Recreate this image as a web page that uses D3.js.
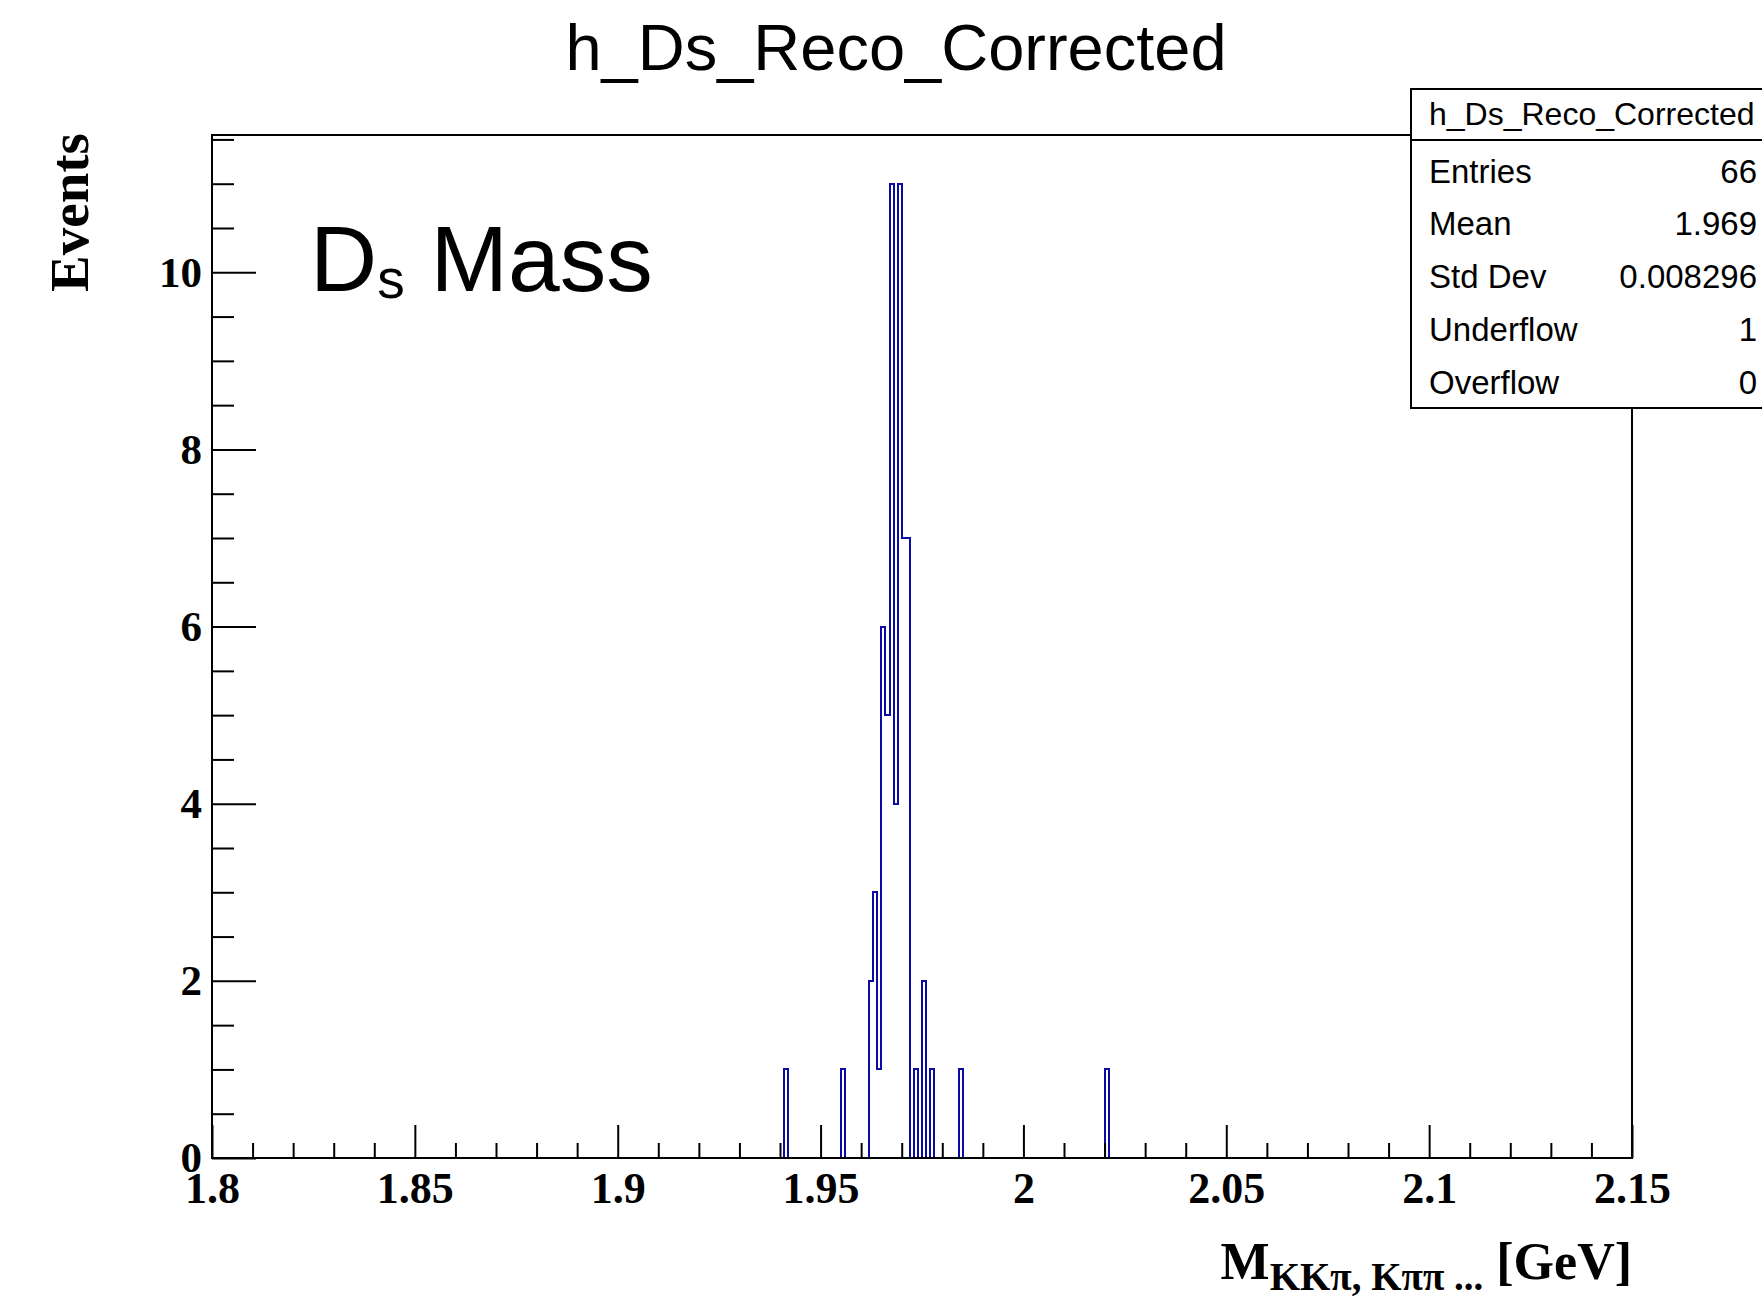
<!DOCTYPE html>
<html>
<head>
<meta charset="utf-8">
<script src="https://cdn.jsdelivr.net/npm/d3@7"></script>
<style>
  html, body { margin: 0; padding: 0; background: #fff; }
  svg { display: block; }
</style>
</head>
<body>
<svg id="chart" width="1762" height="1297"></svg>
<script>
// Histogram binning (GeV)
const massMin = 1.8;
const massMax = 2.15;
const binWidth = 0.001;

// Lower edges of the non-empty bins and their contents
const binLowEdges = [1.941, 1.955, 1.962, 1.963, 1.964, 1.965, 1.966, 1.967, 1.968,
                     1.969, 1.970, 1.971, 1.973, 1.975, 1.977, 1.984, 2.020];
const binCounts   = [1, 1, 2, 3, 1, 6, 5, 11, 4, 11, 7, 7, 1, 2, 1, 1, 1];

// Axis ticks
const xMajorTicks = [1.8, 1.85, 1.9, 1.95, 2.0, 2.05, 2.1, 2.15];
const xTickLabels = ["1.8", "1.85", "1.9", "1.95", "2", "2.05", "2.1", "2.15"];
const yMajorTicks = [0, 2, 4, 6, 8, 10];
const yTickLabels = ["0", "2", "4", "6", "8", "10"];

// Statistics box
const histName = "h_Ds_Reco_Corrected";
const statLabels = ["Entries", "Mean", "Std Dev", "Underflow", "Overflow"];
const statValues = ["66", "1.969", "0.008296", "1", "0"];

const svg = d3.select("#chart");
const W = 1762, H = 1297;
const frame = { left: 212, right: 1632, top: 135, bottom: 1158 };

const serif = "'Liberation Serif', 'Times New Roman', Times, serif";
const sans = "'Liberation Sans', Arial, Helvetica, sans-serif";
const histColor = "#0a0aa6";

svg.append("rect").attr("width", W).attr("height", H).attr("fill", "#fff");

const yMax = d3.max(binCounts) * 1.05;
const x = d3.scaleLinear().domain([massMin, massMax]).range([frame.left, frame.right]);
const y = d3.scaleLinear().domain([0, yMax]).range([frame.bottom, frame.top]);

// Full bin contents
const nBins = Math.round((massMax - massMin) / binWidth);
const contents = new Array(nBins).fill(0);
binLowEdges.forEach((e, i) => {
  contents[Math.round((e - massMin) / binWidth)] = binCounts[i];
});
const steps = contents.map((c, i) => ({ edge: massMin + i * binWidth, c }));
steps.push({ edge: massMax, c: 0 });

// Histogram outline
const line = d3.line()
  .x(d => x(d.edge))
  .y(d => y(d.c))
  .curve(d3.curveStepAfter);

svg.append("path")
  .datum([{ edge: massMin, c: 0 }].concat(steps))
  .attr("d", line)
  .attr("fill", "none")
  .attr("stroke", histColor)
  .attr("stroke-width", 2)
  .attr("shape-rendering", "crispEdges");

// Minor ticks
const xMinor = d3.range(0, 36).map(i => +(massMin + i * 0.01).toFixed(3))
  .filter(v => !xMajorTicks.some(t => Math.abs(t - v) < 1e-9));
const yMinor = d3.range(0, 24).map(i => i * 0.5)
  .filter(v => v <= yMax && !yMajorTicks.includes(v));

const gx = svg.append("g").attr("transform", `translate(0,${frame.bottom})`);
gx.call(d3.axisBottom(x).tickValues(xMinor).tickSize(-15).tickFormat(""));
gx.call(g => g.select(".domain").remove());
const gxMaj = svg.append("g").attr("transform", `translate(0,${frame.bottom})`);
gxMaj.call(d3.axisBottom(x).tickValues(xMajorTicks).tickSize(-33).tickPadding(14)
  .tickFormat((d, i) => xTickLabels[i]));
gxMaj.select(".domain").remove();
gxMaj.selectAll("text")
  .attr("font-family", serif).attr("font-weight", "bold").attr("font-size", 44)
  .attr("fill", "#000");

const gy = svg.append("g").attr("transform", `translate(${frame.left},0)`);
gy.call(d3.axisLeft(y).tickValues(yMinor).tickSize(-22).tickFormat(""));
gy.select(".domain").remove();
const gyMaj = svg.append("g").attr("transform", `translate(${frame.left},0)`);
gyMaj.call(d3.axisLeft(y).tickValues(yMajorTicks).tickSize(-44).tickPadding(10)
  .tickFormat((d, i) => yTickLabels[i]));
gyMaj.select(".domain").remove();
gyMaj.selectAll("text")
  .attr("font-family", serif).attr("font-weight", "bold").attr("font-size", 43)
  .attr("fill", "#000");

svg.selectAll(".tick line").attr("stroke", "#000").attr("stroke-width", 2);

// Frame
svg.append("rect")
  .attr("x", frame.left).attr("y", frame.top)
  .attr("width", frame.right - frame.left).attr("height", frame.bottom - frame.top)
  .attr("fill", "none").attr("stroke", "#000").attr("stroke-width", 2);

// Title
svg.append("text")
  .attr("x", 896).attr("y", 70)
  .attr("text-anchor", "middle")
  .attr("font-family", sans).attr("font-size", 65)
  .attr("fill", "#000")
  .text(histName);

// Y axis title
svg.append("text")
  .attr("transform", `translate(88,133) rotate(-90)`)
  .attr("text-anchor", "end")
  .attr("font-family", serif).attr("font-weight", "bold").attr("font-size", 55)
  .attr("fill", "#000")
  .text("Events");

// X axis title
const xt = svg.append("text")
  .attr("x", frame.right).attr("y", 1279)
  .attr("text-anchor", "end")
  .attr("font-family", serif).attr("font-weight", "bold").attr("font-size", 52)
  .attr("fill", "#000");
xt.append("tspan").text("M");
xt.append("tspan").attr("font-size", 39).attr("dy", 11).text("KKπ, Kππ ...");
xt.append("tspan").attr("dy", -11).text(" [GeV]");

// In-plot label
const lab = svg.append("text")
  .attr("x", 310).attr("y", 291)
  .attr("font-family", sans).attr("font-size", 93)
  .attr("fill", "#000");
lab.append("tspan").text("D");
lab.append("tspan").attr("font-size", 55).attr("dy", 7).text("s");
lab.append("tspan").attr("dy", -7).text(" Mass");

// Statistics box
const box = { x: 1411, y: 89, w: 360, h: 319, header: 51 };
svg.append("rect")
  .attr("x", box.x).attr("y", box.y).attr("width", box.w).attr("height", box.h)
  .attr("fill", "#fff").attr("stroke", "#000").attr("stroke-width", 2);
svg.append("line")
  .attr("x1", box.x).attr("x2", box.x + box.w)
  .attr("y1", box.y + box.header).attr("y2", box.y + box.header)
  .attr("stroke", "#000").attr("stroke-width", 2);
svg.append("text")
  .attr("x", 1429).attr("y", 125)
  .attr("font-family", sans).attr("font-size", 32).attr("fill", "#000")
  .text(histName);

const rowY = d3.scalePoint().domain(statLabels).range([182.5, 393.5]);
const rows = svg.append("g").selectAll("g").data(statLabels).join("g");
rows.append("text")
  .attr("x", 1429).attr("y", d => rowY(d))
  .attr("font-family", sans).attr("font-size", 33).attr("fill", "#000")
  .text(d => d);
rows.append("text")
  .attr("x", 1757).attr("y", d => rowY(d))
  .attr("text-anchor", "end")
  .attr("font-family", sans).attr("font-size", 33).attr("fill", "#000")
  .text((d, i) => statValues[i]);
</script>
</body>
</html>
